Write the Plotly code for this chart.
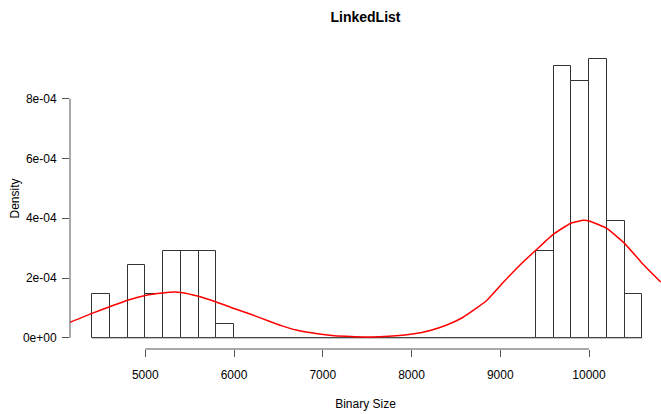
import plotly.graph_objects as go

# Histogram bins (Binary Size), width 200, from 4400 to 10600
bin_start = 4400
bin_width = 200
densities = [1.45e-4, 0.0, 2.45e-4, 1.45e-4, 2.92e-4, 2.92e-4, 2.92e-4, 0.48e-4,
             0, 0, 0, 0, 0, 0, 0, 0, 0, 0, 0, 0, 0, 0, 0, 0, 0,
             2.92e-4, 9.08e-4, 8.58e-4, 9.32e-4, 3.92e-4, 1.45e-4]

# Kernel density estimate curve
kde_x = [4152, 4400, 4600, 4800, 5000, 5200, 5330, 5400, 5600, 5800, 6000, 6196, 6383,
         6540, 6702, 6890, 7077, 7260, 7452, 7640, 7827, 8010, 8202, 8390, 8577,
         8844, 9032, 9220, 9400, 9600, 9800, 9935, 10000, 10200, 10400, 10600, 10808]
kde_y = [0.52e-4, 0.82e-4, 1.04e-4, 1.26e-4, 1.42e-4, 1.50e-4, 1.53e-4, 1.52e-4,
         1.39e-4, 1.20e-4, 0.98e-4, 0.78e-4, 0.57e-4, 0.40e-4, 0.26e-4, 0.16e-4,
         0.09e-4, 0.05e-4, 0.03e-4, 0.04e-4, 0.07e-4, 0.13e-4, 0.24e-4, 0.42e-4,
         0.68e-4, 1.24e-4, 1.85e-4, 2.43e-4, 2.93e-4, 3.47e-4, 3.84e-4,
         3.93e-4, 3.91e-4, 3.66e-4, 3.16e-4, 2.49e-4, 1.87e-4]

x_ticks = [5000, 6000, 7000, 8000, 9000, 10000]
x_tick_labels = ["5000", "6000", "7000", "8000", "9000", "10000"]
y_ticks = [0, 2e-4, 4e-4, 6e-4, 8e-4]
y_tick_labels = ["0e+00", "2e-04", "4e-04", "6e-04", "8e-04"]

centers = [bin_start + bin_width * (i + 0.5) for i in range(len(densities))]
edges_lo = bin_start
edges_hi = bin_start + bin_width * len(densities)

fig = go.Figure()
fig.add_trace(go.Bar(x=centers, y=densities, width=bin_width,
                     marker=dict(color="white", line=dict(color="#333333", width=1)),
                     showlegend=False, hoverinfo="skip"))
fig.add_trace(go.Scatter(x=[edges_lo, edges_hi], y=[0, 0], mode="lines",
                         line=dict(color="#555555", width=1), showlegend=False))
fig.add_trace(go.Scatter(x=kde_x, y=kde_y, mode="lines", line_shape="spline",
                         line=dict(color="red", width=1.5, smoothing=0.4),
                         showlegend=False))

xmin_r = edges_lo - 0.04 * (edges_hi - edges_lo)
ymax = max(densities)
ylo = -0.04 * ymax
yhi = ymax * 1.04

font = "Liberation Sans, Arial, sans-serif"
fig.update_layout(
    width=661, height=414,
    margin=dict(l=70, r=0, t=48, b=65),
    paper_bgcolor="white", plot_bgcolor="white",
    font=dict(family=font, size=12, color="black"),
    title=dict(text="<b>LinkedList</b>", x=(70 + 661) / 2 / 661, xanchor="center",
               y=1 - 17 / 414, yanchor="middle", font=dict(size=14, family=font)),
    bargap=0,
    xaxis=dict(range=[xmin_r, xmin_r + 591 / 0.08875], tickvals=x_ticks,
               ticktext=x_tick_labels,
               ticks="outside", ticklen=7, tickcolor="#555555", showgrid=False,
               zeroline=False, showline=False, ticklabelstandoff=8,
               title=dict(text="Binary Size", standoff=18, font=dict(size=12))),
    yaxis=dict(range=[ylo, yhi], tickvals=y_ticks, ticktext=y_tick_labels,
               ticks="outside", ticklen=7, tickcolor="#555555", showgrid=False,
               zeroline=False, showline=False, ticklabelstandoff=3,
               title=dict(text="Density", standoff=0, font=dict(size=12))),
    shapes=[
        dict(type="line", xref="x", yref="paper", x0=min(x_ticks), x1=max(x_ticks),
             y0=0, y1=0, line=dict(color="#555555", width=1)),
        dict(type="line", xref="paper", yref="y", x0=0, x1=0,
             y0=min(y_ticks), y1=max(y_ticks), line=dict(color="#555555", width=1)),
    ],
)
fig.write_html("out.html")
